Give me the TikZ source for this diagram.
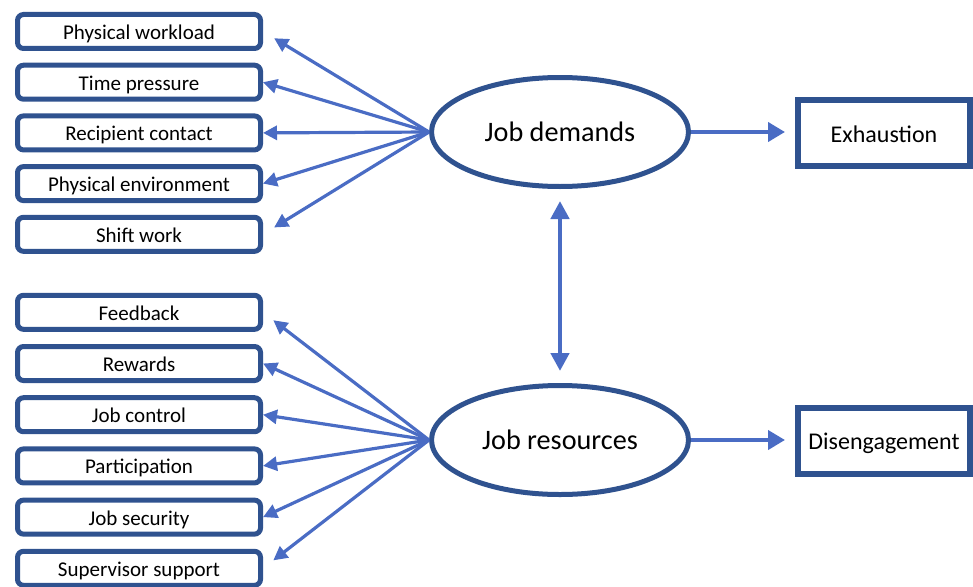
\documentclass[tikz,border=0pt]{standalone}
\usepackage{fontspec}
\setmainfont{Carlito}
\usetikzlibrary{arrows.meta,shapes.geometric}
\definecolor{bord}{HTML}{2F528F}
\definecolor{arr}{HTML}{4A6CC4}
\tikzset{
  factor/.style={draw=bord, line width=5pt, rounded corners=6pt, minimum width=243pt, minimum height=34pt, inner sep=0pt, font=\fontsize{21}{24}\selectfont, text height=16pt, text depth=0pt, fill=white},
  latent/.style={draw=bord, line width=5pt, ellipse, minimum width=257pt, minimum height=109pt, inner sep=0pt, font=\fontsize{28.2}{32}\selectfont, text height=19.4pt, text depth=0pt},
  outcome/.style={draw=bord, line width=6pt, minimum width=172pt, minimum height=66pt, inner sep=0pt, font=\fontsize{24}{28}\selectfont, text height=18pt, text depth=0pt},
  leftarr/.style={draw=arr, line width=3.2pt, -{Triangle[length=14pt,width=14pt]}},
  rightarr/.style={draw=arr, line width=4pt, -{Triangle[length=17pt,width=19pt]}},
  vertarr/.style={draw=arr, line width=4.5pt, {Triangle[length=18pt,width=18pt]}-{Triangle[length=18pt,width=18pt]}}
}
\begin{document}
\begin{tikzpicture}[x=1pt,y=-1pt]
\useasboundingbox (0,0) rectangle (973,586);
% left boxes, demands
\node[factor] (b1) at (139,31.5) {Physical workload};
\node[factor] (b2) at (139,82.2) {Time pressure};
\node[factor] (b3) at (139,132.9) {Recipient contact};
\node[factor] (b4) at (139,183.6) {Physical environment};
\node[factor] (b5) at (139,234.3) {Shift work};
% left boxes, resources
\node[factor] (r1) at (139,312.3) {Feedback};
\node[factor] (r2) at (139,363.5) {Rewards};
\node[factor] (r3) at (139,414.7) {Job control};
\node[factor] (r4) at (139,465.9) {Participation};
\node[factor] (r5) at (139,517.1) {Job security};
\node[factor] (r6) at (139,568.3) {Supervisor support};
% ellipses
\node[latent] (jd) at (560,132) {Job demands};
\node[latent] (jr) at (560,440) {Job resources};
% outcomes
\node[outcome] (ex) at (884,133) {Exhaustion};
\node[outcome] (dis) at (884,440.5) {Disengagement};
% arrows demands
\draw[leftarr, shorten >=13pt] (jd.west) -- (b1.east);
\draw[leftarr] (jd.west) -- (b2.east);
\draw[leftarr] (jd.west) -- (b3.east);
\draw[leftarr] (jd.west) -- (b4.east);
\draw[leftarr, shorten >=13pt] (jd.west) -- (b5.east);
% arrows resources
\draw[leftarr, shorten >=13pt] (jr.west) -- (r1.east);
\draw[leftarr] (jr.west) -- (r2.east);
\draw[leftarr] (jr.west) -- (r3.east);
\draw[leftarr] (jr.west) -- (r4.east);
\draw[leftarr] (jr.west) -- (r5.east);
\draw[leftarr, shorten >=13pt] (jr.west) -- (r6.east);
% outcome arrows
\draw[rightarr, shorten >=10pt] (jd.east) -- (jd.east -| ex.west);
\draw[rightarr, shorten >=10pt] (jr.east) -- (jr.east -| dis.west);
% correlation
\draw[vertarr, shorten <=12pt, shorten >=12pt] (jd.south) -- (jr.north);
\end{tikzpicture}
\end{document}
